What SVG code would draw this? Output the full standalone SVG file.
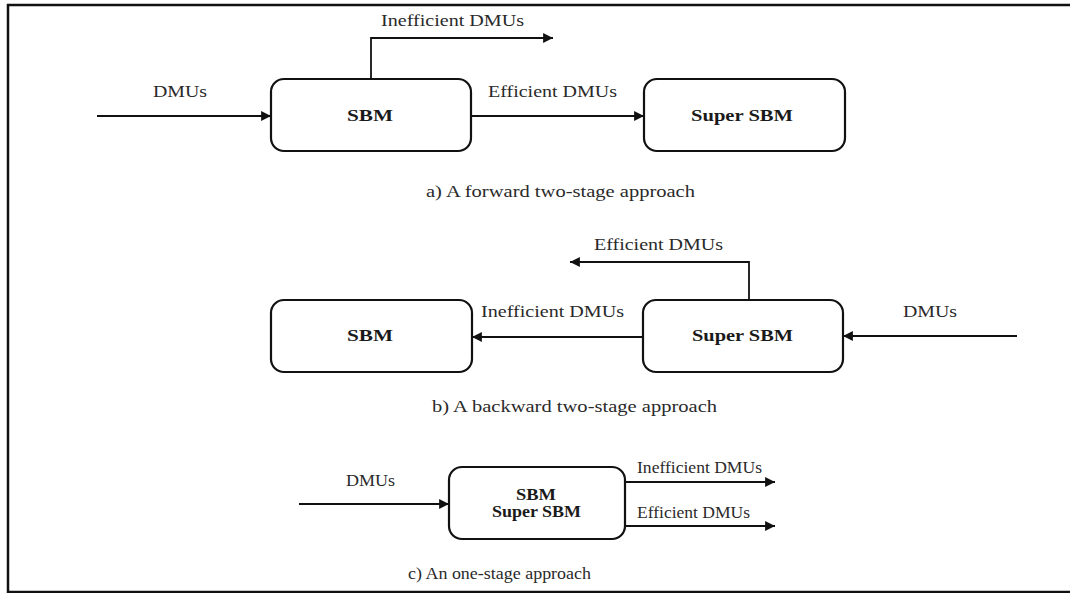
<svg xmlns="http://www.w3.org/2000/svg" width="1070" height="593" viewBox="0 0 1070 593">
<style>
.lbl{font-family:"Liberation Serif","Times New Roman",serif;font-size:16px;fill:#2a2a2a}
.bold{font-family:"Liberation Serif","Times New Roman",serif;font-size:16px;font-weight:bold;fill:#1a1a1a}
.box{fill:#fff;stroke:#111;stroke-width:2.2}
.conn{fill:none;stroke:#111;stroke-width:1.8}
</style>
<defs>
<marker id="arr" viewBox="0 0 10 10" refX="10" refY="5" markerWidth="5.5" markerHeight="5.5" orient="auto" markerUnits="strokeWidth">
<path d="M0,0 L10,5 L0,10 z" fill="#111"/>
</marker>
</defs>
<rect x="0" y="0" width="1070" height="593" fill="#fff"/>
<path d="M1070,5 L8,5 L8,592 L1070,592" fill="none" stroke="#111" stroke-width="2.5"/>

<g id="connectors">
<line class="conn" x1="97" y1="116" x2="271" y2="116" marker-end="url(#arr)"/>
<path class="conn" d="M371,79 L371,38 L553,38" marker-end="url(#arr)"/>
<line class="conn" x1="471" y1="116" x2="644" y2="116" marker-end="url(#arr)"/>
<line class="conn" x1="643" y1="337" x2="472" y2="337" marker-end="url(#arr)"/>
<path class="conn" d="M749,300 L749,262 L570,262" marker-end="url(#arr)"/>
<line class="conn" x1="1017" y1="336" x2="843" y2="336" marker-end="url(#arr)"/>
<line class="conn" x1="299" y1="504" x2="449" y2="504" marker-end="url(#arr)"/>
<line class="conn" x1="625" y1="482" x2="775" y2="482" marker-end="url(#arr)"/>
<line class="conn" x1="625" y1="526" x2="775" y2="526" marker-end="url(#arr)"/>
</g>

<g id="labels">
<text class="lbl" x="153" y="97" textLength="54" lengthAdjust="spacingAndGlyphs">DMUs</text>
<text class="lbl" x="381" y="26" textLength="143" lengthAdjust="spacingAndGlyphs">Inefficient  DMUs</text>
<text class="lbl" x="488" y="97" textLength="129" lengthAdjust="spacingAndGlyphs">Efficient DMUs</text>
<text class="lbl" x="426" y="197" textLength="269" lengthAdjust="spacingAndGlyphs">a) A forward two-stage approach</text>

<text class="lbl" x="594" y="250" textLength="129" lengthAdjust="spacingAndGlyphs">Efficient DMUs</text>
<text class="lbl" x="481" y="317" textLength="143" lengthAdjust="spacingAndGlyphs">Inefficient  DMUs</text>
<text class="lbl" x="903" y="317" textLength="54" lengthAdjust="spacingAndGlyphs">DMUs</text>
<text class="lbl" x="432" y="412" textLength="285" lengthAdjust="spacingAndGlyphs">b) A backward two-stage approach</text>

<text class="lbl" x="346" y="486" textLength="49" lengthAdjust="spacingAndGlyphs">DMUs</text>
<text class="lbl" x="637" y="473" textLength="125" lengthAdjust="spacingAndGlyphs">Inefficient  DMUs</text>
<text class="lbl" x="637" y="518" textLength="113" lengthAdjust="spacingAndGlyphs">Efficient DMUs</text>
<text class="lbl" x="408" y="579" textLength="183" lengthAdjust="spacingAndGlyphs">c) An one-stage approach</text>
</g>

<g id="sbm-a">
<rect class="box" x="271" y="79" width="200" height="72" rx="13"/>
<text class="bold" x="347" y="121" textLength="46" lengthAdjust="spacingAndGlyphs">SBM</text>
</g>
<g id="super-sbm-a">
<rect class="box" x="644" y="79" width="201" height="72" rx="13"/>
<text class="bold" x="691" y="121" textLength="102" lengthAdjust="spacingAndGlyphs">Super SBM</text>
</g>
<g id="sbm-b">
<rect class="box" x="271" y="300" width="201" height="72" rx="13"/>
<text class="bold" x="347" y="341" textLength="46" lengthAdjust="spacingAndGlyphs">SBM</text>
</g>
<g id="super-sbm-b">
<rect class="box" x="643" y="300" width="200" height="72" rx="13"/>
<text class="bold" x="692" y="341" textLength="101" lengthAdjust="spacingAndGlyphs">Super SBM</text>
</g>
<g id="sbm-super-c">
<rect class="box" x="449" y="467" width="176" height="72" rx="13"/>
<text class="bold" x="516" y="500" textLength="40" lengthAdjust="spacingAndGlyphs">SBM</text>
<text class="bold" x="492" y="517" textLength="89" lengthAdjust="spacingAndGlyphs">Super SBM</text>
</g>
</svg>
